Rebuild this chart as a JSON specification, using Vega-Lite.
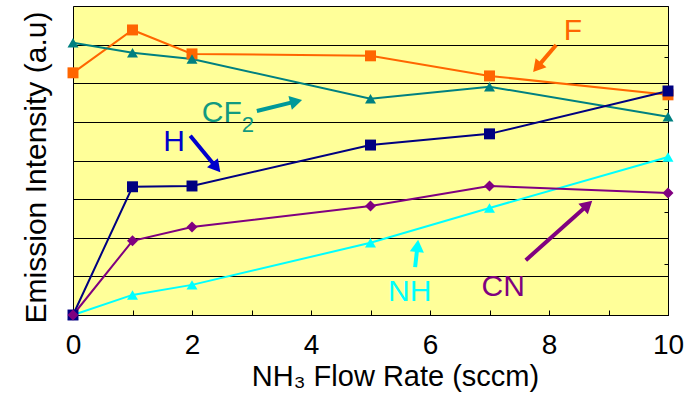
{
  "$schema": "https://vega.github.io/schema/vega-lite/v6.json",
  "width": 595,
  "height": 309,
  "autosize": "none",
  "padding": {"left": 73, "top": 6, "right": 27, "bottom": 82},
  "background": "white",
  "config": {
    "view": {"fill": "#FFFF99", "stroke": "#999999", "strokeWidth": 1},
    "font": "Liberation Sans"
  },
  "datasets": {
    "series": [
      {"s": "F", "x": 0, "y": 6.27}, {"s": "F", "x": 1, "y": 7.38}, {"s": "F", "x": 2, "y": 6.76},
      {"s": "F", "x": 5, "y": 6.71}, {"s": "F", "x": 7, "y": 6.19}, {"s": "F", "x": 10, "y": 5.70},
      {"s": "CF2", "x": 0, "y": 7.05}, {"s": "CF2", "x": 1, "y": 6.79}, {"s": "CF2", "x": 2, "y": 6.63},
      {"s": "CF2", "x": 5, "y": 5.60}, {"s": "CF2", "x": 7, "y": 5.91}, {"s": "CF2", "x": 10, "y": 5.13},
      {"s": "NH", "x": 0, "y": 0}, {"s": "NH", "x": 1, "y": 0.52}, {"s": "NH", "x": 2, "y": 0.78},
      {"s": "NH", "x": 5, "y": 1.87}, {"s": "NH", "x": 7, "y": 2.77}, {"s": "NH", "x": 10, "y": 4.09},
      {"s": "H", "x": 0, "y": 0}, {"s": "H", "x": 1, "y": 3.32}, {"s": "H", "x": 2, "y": 3.34},
      {"s": "H", "x": 5, "y": 4.40}, {"s": "H", "x": 7, "y": 4.69}, {"s": "H", "x": 10, "y": 5.80},
      {"s": "CN", "x": 0, "y": 0}, {"s": "CN", "x": 1, "y": 1.92}, {"s": "CN", "x": 2, "y": 2.28},
      {"s": "CN", "x": 5, "y": 2.82}, {"s": "CN", "x": 7, "y": 3.34}, {"s": "CN", "x": 10, "y": 3.16}
    ],
    "arrows": [
      {"s": "aF", "x": 8.12, "y": 6.99, "x2": 7.80, "y2": 6.41},
      {"s": "aCF2", "x": 3.09, "y": 5.28, "x2": 3.75, "y2": 5.53},
      {"s": "aH", "x": 1.97, "y": 4.64, "x2": 2.41, "y2": 3.82},
      {"s": "aNH", "x": 5.75, "y": 1.24, "x2": 5.79, "y2": 1.79},
      {"s": "aCN", "x": 7.61, "y": 1.42, "x2": 8.65, "y2": 2.85}
    ],
    "labels": [
      {"s": "aF", "t": "F", "x": 8.40, "y": 7.36},
      {"s": "tCF2", "t": "CF", "x": 2.50, "y": 5.23},
      {"s": "aH", "t": "H", "x": 1.70, "y": 4.48},
      {"s": "aNH", "t": "NH", "x": 5.66, "y": 0.60},
      {"s": "aCN", "t": "CN", "x": 7.23, "y": 0.73}
    ],
    "subs": [
      {"s": "tCF2", "t": "2", "x": 2.94, "y": 4.92}
    ]
  },
  "resolve": {"axis": {"y": "independent"}},
  "layer": [
    {
      "data": {"name": "series"},
      "mark": {"type": "line", "strokeWidth": 2},
      "encoding": {
        "x": {
          "field": "x", "type": "quantitative",
          "scale": {"domain": [0, 10], "nice": false},
          "axis": {
            "values": [0, 1, 2, 3, 4, 5, 6, 7, 8, 9, 10],
            "format": "d",
            "labelExpr": "datum.value % 2 === 0 ? datum.label : ''",
            "labelFlush": false, "labelOverlap": false,
            "grid": false, "domainColor": "#000000", "tickColor": "#000000",
            "tickSize": -5, "labelPadding": 21, "labelFontSize": 28, "labelColor": "#000000",
            "title": "NH₃ Flow Rate (sccm)", "titleFontSize": 29, "titleFontWeight": "normal",
            "titleColor": "#000000", "titlePadding": 3, "titleX": 322
          }
        },
        "y": {
          "field": "y", "type": "quantitative",
          "scale": {"domain": [0, 8], "nice": false},
          "axis": {
            "values": [0, 1, 2, 3, 4, 5, 6, 7, 8],
            "labels": false, "ticks": false, "grid": true, "gridColor": "#000000", "gridWidth": 1,
            "domainColor": "#000000",
            "title": "Emission Intensity (a.u)", "titleFontSize": 30, "titleFontWeight": "normal",
            "titleColor": "#000000", "titlePadding": 22, "titleY": 161
          }
        },
        "color": {
          "field": "s", "type": "nominal", "legend": null,
          "scale": {
            "domain": ["F", "CF2", "H", "CN", "NH", "aF", "aCF2", "aH", "aCN", "aNH", "tCF2"],
            "range": ["#FF6600", "#008080", "#000080", "#800080", "#00FFFF", "#FF6600", "#009999", "#0000CC", "#800080", "#00FFFF", "#119A80"]
          }
        },
        "detail": {"field": "s"}
      }
    },
    {
      "data": {"name": "series"},
      "transform": [{"filter": "datum.s !== 'CN'"}],
      "mark": {"type": "point", "filled": true, "opacity": 1},
      "encoding": {
        "x": {"field": "x", "type": "quantitative"},
        "y": {"field": "y", "type": "quantitative", "axis": null},
        "color": {"field": "s", "type": "nominal", "legend": null},
        "shape": {
          "field": "s", "type": "nominal", "legend": null,
          "scale": {"domain": ["F", "CF2", "H", "CN", "NH"], "range": ["square", "triangle-up", "square", "diamond", "triangle-up"]}
        },
        "size": {
          "field": "s", "type": "nominal", "legend": null,
          "scale": {"domain": ["F", "CF2", "H", "CN", "NH"], "range": [120, 120, 50, 115, 90]}
        }
      }
    },
    {
      "data": {"name": "series"},
      "transform": [{"filter": "datum.s === 'CN'"}],
      "mark": {"type": "point", "filled": true, "opacity": 1},
      "encoding": {
        "x": {"field": "x", "type": "quantitative"},
        "y": {"field": "y", "type": "quantitative", "axis": null},
        "color": {"field": "s", "type": "nominal", "legend": null},
        "shape": {"field": "s", "type": "nominal", "legend": null},
        "size": {"field": "s", "type": "nominal", "legend": null}
      }
    },
    {
      "data": {"name": "arrows"},
      "mark": {"type": "rule", "strokeWidth": 4},
      "encoding": {
        "x": {"field": "x", "type": "quantitative"},
        "y": {"field": "y", "type": "quantitative", "axis": null},
        "x2": {"field": "x2"},
        "y2": {"field": "y2"},
        "color": {"field": "s", "type": "nominal", "legend": null}
      }
    },
    {
      "data": {"name": "arrows"},
      "transform": [{"filter": "datum.s === 'aF'"}],
      "mark": {"type": "point", "shape": "triangle-up", "filled": true, "opacity": 1, "size": 200, "angle": 220},
      "encoding": {
        "x": {"field": "x2", "type": "quantitative"},
        "y": {"field": "y2", "type": "quantitative", "axis": null},
        "color": {"field": "s", "type": "nominal", "legend": null}
      }
    },
    {
      "data": {"name": "arrows"},
      "transform": [{"filter": "datum.s === 'aCF2'"}],
      "mark": {"type": "point", "shape": "triangle-up", "filled": true, "opacity": 1, "size": 200, "angle": 76},
      "encoding": {
        "x": {"field": "x2", "type": "quantitative"},
        "y": {"field": "y2", "type": "quantitative", "axis": null},
        "color": {"field": "s", "type": "nominal", "legend": null}
      }
    },
    {
      "data": {"name": "arrows"},
      "transform": [{"filter": "datum.s === 'aH'"}],
      "mark": {"type": "point", "shape": "triangle-up", "filled": true, "opacity": 1, "size": 200, "angle": 140},
      "encoding": {
        "x": {"field": "x2", "type": "quantitative"},
        "y": {"field": "y2", "type": "quantitative", "axis": null},
        "color": {"field": "s", "type": "nominal", "legend": null}
      }
    },
    {
      "data": {"name": "arrows"},
      "transform": [{"filter": "datum.s === 'aNH'"}],
      "mark": {"type": "point", "shape": "triangle-up", "filled": true, "opacity": 1, "size": 200, "angle": 6},
      "encoding": {
        "x": {"field": "x2", "type": "quantitative"},
        "y": {"field": "y2", "type": "quantitative", "axis": null},
        "color": {"field": "s", "type": "nominal", "legend": null}
      }
    },
    {
      "data": {"name": "arrows"},
      "transform": [{"filter": "datum.s === 'aCN'"}],
      "mark": {"type": "point", "shape": "triangle-up", "filled": true, "opacity": 1, "size": 200, "angle": 48},
      "encoding": {
        "x": {"field": "x2", "type": "quantitative"},
        "y": {"field": "y2", "type": "quantitative", "axis": null},
        "color": {"field": "s", "type": "nominal", "legend": null}
      }
    },
    {
      "data": {"name": "labels"},
      "mark": {"type": "text", "fontSize": 30, "align": "center", "baseline": "middle"},
      "encoding": {
        "x": {"field": "x", "type": "quantitative"},
        "y": {"field": "y", "type": "quantitative", "axis": null},
        "text": {"field": "t"},
        "color": {"field": "s", "type": "nominal", "legend": null}
      }
    },
    {
      "data": {"name": "subs"},
      "mark": {"type": "text", "fontSize": 22, "align": "center", "baseline": "middle"},
      "encoding": {
        "x": {"field": "x", "type": "quantitative"},
        "y": {
          "field": "y", "type": "quantitative",
          "axis": {
            "orient": "right", "values": [0, 1.3333, 2.6667, 4, 5.3333, 6.6667, 8],
            "labels": false, "grid": false, "tickSize": -4, "tickColor": "#000000",
            "domainColor": "#000000", "title": null
          }
        },
        "text": {"field": "t"},
        "color": {"field": "s", "type": "nominal", "legend": null}
      }
    }
  ]
}
